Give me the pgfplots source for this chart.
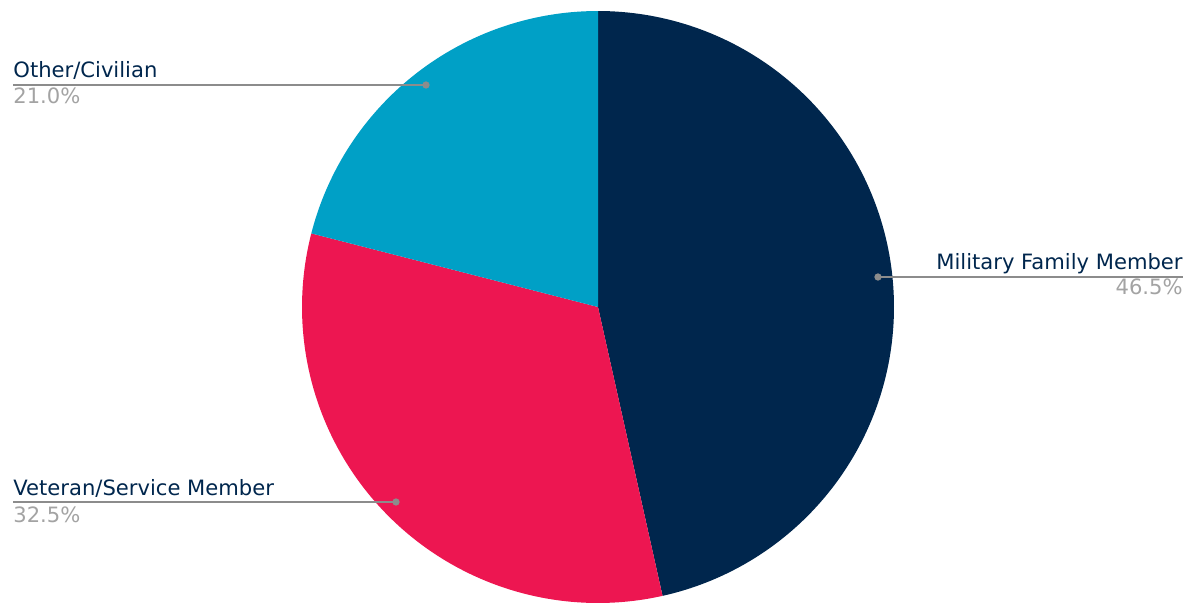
\documentclass[border=0pt]{standalone}
\usepackage{pgfplots}
\pgfplotsset{compat=1.18}
\usepackage{fontspec}
\setmainfont{DejaVu Sans}
\definecolor{navy}{HTML}{00264D}
\definecolor{crimson}{HTML}{ED1651}
\definecolor{teal}{HTML}{00A0C6}
\definecolor{pctgray}{HTML}{A3A3A3}
\definecolor{linegray}{HTML}{8C8C8C}
\tikzset{lbl/.style={inner sep=0pt, font=\fontsize{10.55}{12}\selectfont}}
\begin{document}
\begin{tikzpicture}
% shares (percent)
\pgfmathsetmacro{\vA}{46.5}% Military Family Member
\pgfmathsetmacro{\vB}{32.5}% Veteran/Service Member
\pgfmathsetmacro{\vC}{21.0}% Other/Civilian
\pgfmathsetmacro{\aA}{90}
\pgfmathsetmacro{\aB}{\aA-3.6*\vA}
\pgfmathsetmacro{\aC}{\aB-3.6*\vB}
\pgfmathsetmacro{\aD}{\aC-3.6*\vC}
\begin{axis}[x=0.5pt, y=0.5pt, xmin=0, xmax=1200, ymin=0, ymax=612,
  hide axis, clip=false]
\coordinate (bl) at (axis cs:0,0);
\coordinate (tr) at (axis cs:1200,612);
\addplot[draw=none, fill=navy, domain=\aB:\aA, samples=150]
  ({598+296*cos(x)},{305+296*sin(x)}) -- (axis cs:598,305) -- cycle;
\addplot[draw=none, fill=crimson, domain=\aC:\aB, samples=120]
  ({598+296*cos(x)},{305+296*sin(x)}) -- (axis cs:598,305) -- cycle;
\addplot[draw=none, fill=teal, domain=\aD:\aC, samples=90]
  ({598+296*cos(x)},{305+296*sin(x)}) -- (axis cs:598,305) -- cycle;
% leader lines
\addplot[linegray, line width=0.9pt] coordinates {(878,335) (1183,335)};
\addplot[linegray, line width=0.9pt] coordinates {(13,110) (396,110)};
\addplot[linegray, line width=0.9pt] coordinates {(13,527) (426,527)};
\addplot[only marks, mark=*, mark size=1.6pt, linegray] coordinates {(878,335) (396,110) (426,527)};
% labels
\node[lbl, anchor=base east, text=navy] at (axis cs:1183,343) {Military Family Member};
\node[lbl, anchor=base east, text=pctgray] at (axis cs:1183,317) {46.5\%};
\node[lbl, anchor=base west, text=navy] at (axis cs:13,117) {Veteran/Service Member};
\node[lbl, anchor=base west, text=pctgray] at (axis cs:13,90) {32.5\%};
\node[lbl, anchor=base west, text=navy] at (axis cs:13,534) {Other/Civilian};
\node[lbl, anchor=base west, text=pctgray] at (axis cs:13,508) {21.0\%};
\end{axis}
\pgfresetboundingbox
\useasboundingbox (bl) rectangle (tr);
\end{tikzpicture}
\end{document}
